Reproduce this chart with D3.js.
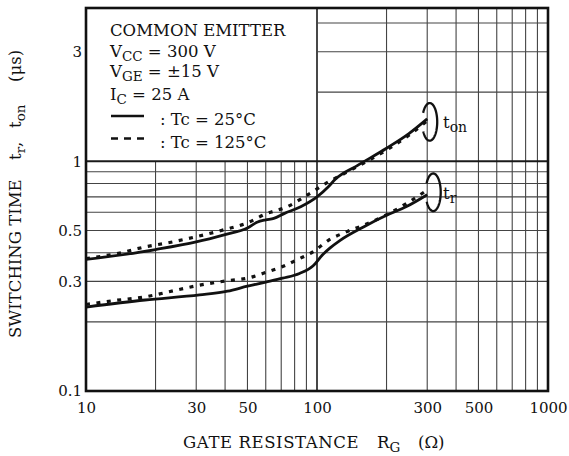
<!DOCTYPE html>
<html>
<head>
<meta charset="utf-8">
<script src="https://cdn.jsdelivr.net/npm/d3@7"></script>
<style>
  body { margin: 0; background: #fff; }
  text { font-family: "DejaVu Serif", serif; fill: #111; white-space: pre; }
</style>
</head>
<body>
<script>
// switching time vs gate resistance, log-log

// t_on, Tc = 25°C
const rgOn25 = [10, 15, 20, 30, 40, 50, 55, 60, 65, 72, 85, 100, 112, 120, 150, 200, 250, 300];
const tOn25 = [0.374, 0.394, 0.413, 0.446, 0.48, 0.512, 0.543, 0.556, 0.564, 0.592, 0.634, 0.70, 0.775, 0.835, 0.96, 1.14, 1.32, 1.53];
// t_on, Tc = 125°C
const rgOn125 = [10, 14, 18, 23, 29, 40, 50, 60, 74, 93, 112, 130, 160, 200, 250, 300];
const tOn125 = [0.377, 0.399, 0.424, 0.443, 0.466, 0.505, 0.54, 0.59, 0.633, 0.724, 0.813, 0.88, 0.985, 1.12, 1.3, 1.5];
// t_r, Tc = 25°C
const rgR25 = [10, 18, 31, 41, 50, 60, 71, 84, 96, 106, 114, 126, 159, 200, 244, 300];
const tR25 = [0.232, 0.249, 0.262, 0.272, 0.286, 0.298, 0.31, 0.325, 0.35, 0.393, 0.42, 0.453, 0.518, 0.582, 0.635, 0.715];
// t_r, Tc = 125°C
const rgR125 = [10, 13, 18, 25, 30, 41, 50, 61, 71, 83, 96, 112, 134, 159, 200, 244, 300];
const tR125 = [0.238, 0.247, 0.257, 0.276, 0.287, 0.302, 0.31, 0.33, 0.348, 0.375, 0.403, 0.453, 0.493, 0.527, 0.585, 0.655, 0.75];

const xTicks = [10, 30, 50, 100, 300, 500, 1000];
const yTicks = [0.1, 0.3, 0.5, 1, 3];
const xGrid = [20, 30, 40, 50, 60, 70, 80, 90, 100, 200, 300, 400, 500, 600, 700, 800, 900];
const yGrid = [0.2, 0.3, 0.4, 0.5, 0.6, 0.7, 0.8, 0.9, 1, 2, 3, 4];
const yTop = 4.65;

const legendLines = [
  { main: "COMMON EMITTER", sub: "", rest: "" },
  { main: "V", sub: "CC", rest: " = 300 V" },
  { main: "V", sub: "GE", rest: " = \u00b115 V" },
  { main: "I", sub: "C", rest: " = 25 A" }
];
const legendBase = [36, 57, 77, 100];

const svgWidth = 569, svgHeight = 456;
const padLeft = 86, padRight = 548, padTop = 8, padBottom = 391;

const svg = d3.select('body').append('svg')
  .attr('width', svgWidth)
  .attr('height', svgHeight);

const x = d3.scaleLog().domain([10, 1000]).range([padLeft, padRight]);
const y = d3.scaleLog().domain([0.1, yTop]).range([padBottom, padTop]);

// grid (legend box area top-left stays empty)
svg.append('g').selectAll('line')
  .data(xGrid)
  .enter().append('line')
  .attr('x1', d => x(d)).attr('x2', d => x(d))
  .attr('y1', d => d < 100 ? y(1) : y(yTop))
  .attr('y2', y(0.1))
  .attr('stroke', d => d === 100 ? '#1a1a1a' : '#444')
  .attr('stroke-width', d => d === 100 ? 1.6 : 1.1);

svg.append('g').selectAll('line')
  .data(yGrid)
  .enter().append('line')
  .attr('y1', d => y(d)).attr('y2', d => y(d))
  .attr('x1', d => d > 1 ? x(100) : x(10))
  .attr('x2', x(1000))
  .attr('stroke', d => d === 1 ? '#1a1a1a' : '#444')
  .attr('stroke-width', d => d === 1 ? 1.9 : 1.1);

// frame
svg.append('rect')
  .attr('x', padLeft).attr('y', padTop)
  .attr('width', padRight - padLeft).attr('height', padBottom - padTop)
  .attr('fill', 'none')
  .attr('stroke', '#111')
  .attr('stroke-width', 2.6);

// axes
const xAxis = d3.axisBottom(x).tickValues(xTicks).tickSize(0).tickPadding(11).tickFormat(d => d);
const yAxis = d3.axisLeft(y).tickValues(yTicks).tickSize(0).tickPadding(4).tickFormat(d => d);

const gx = svg.append('g').attr('transform', `translate(0,${padBottom})`).call(xAxis);
const gy = svg.append('g').attr('transform', `translate(${padLeft},0)`).call(yAxis);
[gx, gy].forEach(g => {
  g.select('.domain').remove();
  g.selectAll('text')
    .attr('font-family', '"DejaVu Serif", serif')
    .attr('font-size', 15)
    .attr('fill', '#111');
});

// curves
const line = d3.line()
  .x(d => x(d[0]))
  .y(d => y(d[1]))
  .curve(d3.curveMonotoneX);

const series = [
  { rg: rgOn25, t: tOn25, dash: null },
  { rg: rgOn125, t: tOn125, dash: '4,6.5' },
  { rg: rgR25, t: tR25, dash: null },
  { rg: rgR125, t: tR125, dash: '4,6.5' }
];

svg.append('g').selectAll('path')
  .data(series)
  .enter().append('path')
  .attr('d', s => line(d3.zip(s.rg, s.t)))
  .attr('fill', 'none')
  .attr('stroke', '#111')
  .attr('stroke-width', d => d.dash ? 3.2 : 2.8)
  .attr('stroke-dasharray', d => d.dash);

// loop brackets round the curve ends
function bracket(cx, cy, rx, ry, gap) {
  const pts = d3.range(Math.PI + gap, 3 * Math.PI - gap + 0.01, 0.05)
    .map(a => [cx + rx * Math.cos(a), cy + ry * Math.sin(a)]);
  return d3.line()(pts);
}

const ends = [
  { xe: x(300) + 2.5, ye: y(tOn25[tOn25.length - 1]) + 3, label: 'on', ly: 128 },
  { xe: x(300) + 6, ye: y(tR25[tR25.length - 1]) - 2.5, label: 'r', ly: 199 }
];

ends.forEach(e => {
  svg.append('path')
    .attr('d', bracket(e.xe, e.ye, 7.5, 18.8, 0.5))
    .attr('fill', 'none')
    .attr('stroke', '#111')
    .attr('stroke-width', 2.3);
  const t = svg.append('text')
    .attr('x', 443)
    .attr('y', e.ly)
    .attr('font-size', 16.5);
  t.append('tspan').text('t');
  t.append('tspan').attr('font-size', 14).attr('dy', 4).text(e.label);
});

// legend text
legendLines.forEach((l, i) => {
  const t = svg.append('text')
    .attr('x', 110)
    .attr('y', legendBase[i])
    .attr('font-size', 16.5);
  t.append('tspan').text(l.main);
  if (l.sub) {
    t.append('tspan').attr('font-size', 13.5).attr('dy', 4).text(l.sub);
    t.append('tspan').attr('dy', -4).text(l.rest);
  }
});

svg.append('line')
  .attr('x1', 111).attr('x2', 144)
  .attr('y1', 116).attr('y2', 116)
  .attr('stroke', '#111').attr('stroke-width', 2.6);
svg.append('line')
  .attr('x1', 111).attr('x2', 144)
  .attr('y1', 138.5).attr('y2', 138.5)
  .attr('stroke', '#111').attr('stroke-width', 2.6)
  .attr('stroke-dasharray', '7,6');

svg.append('text').attr('x', 160).attr('y', 125).attr('font-size', 16.5).text(': Tc = 25\u00b0C');
svg.append('text').attr('x', 160).attr('y', 148).attr('font-size', 16.5).text(': Tc = 125\u00b0C');

// axis titles
const xt = svg.append('text').attr('y', 448).attr('font-size', 16.5);
xt.append('tspan').attr('x', 183).attr('letter-spacing', 0.6).text('GATE RESISTANCE');
xt.append('tspan').attr('x', 377).text('R');
xt.append('tspan').attr('font-size', 13.5).attr('dy', 4).text('G');
xt.append('tspan').attr('x', 418).attr('dy', -4).text('(\u03a9)');

const yt = svg.append('text')
  .attr('transform', 'rotate(-90)')
  .attr('y', 21)
  .attr('font-size', 16.5);
yt.append('tspan').attr('x', -338).text('SWITCHING TIME');
yt.append('tspan').attr('x', -160).text('t');
yt.append('tspan').attr('font-size', 13.5).attr('dy', 4).text('r');
yt.append('tspan').attr('dy', -4).text(',');
yt.append('tspan').attr('x', -128).text('t');
yt.append('tspan').attr('font-size', 13.5).attr('dy', 4).text('on');
yt.append('tspan').attr('x', -82).attr('dy', -4).text('(\u03bcs)');
</script>
</body>
</html>
